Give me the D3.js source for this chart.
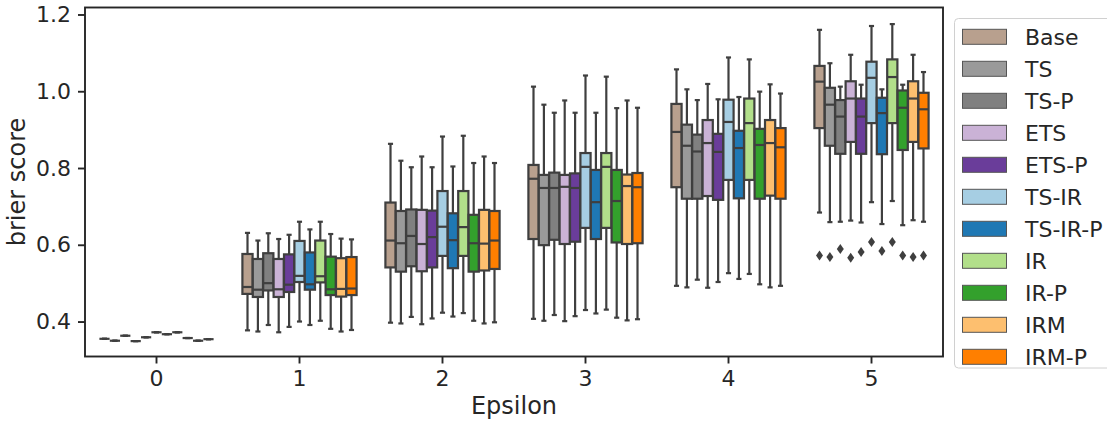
<!DOCTYPE html>
<html lang="en">
<head>
<meta charset="UTF-8">
<title>brier score by epsilon</title>
<script src="https://d3js.org/d3.v7.min.js"></script>
<style>
	body { margin: 0; background: #fff; }
	svg text { font-family: "DejaVu Sans", sans-serif; fill: #262626; }
</style>
</head>
<body>
<svg id="chart" width="1107" height="425"></svg>
<script>
// categories on the x axis and the methods (hue)
var epsilons = ["0", "1", "2", "3", "4", "5"];
var methods = ["Base", "TS", "TS-P", "ETS", "ETS-P", "TS-IR", "TS-IR-P", "IR", "IR-P", "IRM", "IRM-P"];
var colors = ["#b8a08e", "#9a9a9a", "#808080", "#cab2d6", "#6a3d9a", "#a6cee3", "#1f78b4", "#b2df8a", "#33a02c", "#fdbf6f", "#ff7f00"];
var yTicks = [0.4, 0.6, 0.8, 1.0, 1.2];

// box statistics, one row per epsilon, one value per method
var whiskerHigh = [
	[0.355, 0.350, 0.363, 0.349, 0.359, 0.372, 0.367, 0.372, 0.357, 0.350, 0.354],
	[0.631, 0.611, 0.630, 0.615, 0.626, 0.660, 0.640, 0.660, 0.628, 0.616, 0.614],
	[0.863, 0.819, 0.802, 0.830, 0.802, 0.882, 0.804, 0.884, 0.813, 0.830, 0.813],
	[1.012, 0.965, 0.944, 0.976, 0.944, 1.041, 0.944, 1.038, 0.956, 0.976, 0.957],
	[1.057, 1.005, 0.977, 1.019, 0.979, 1.088, 0.985, 1.083, 0.999, 1.018, 0.994],
	[1.160, 1.073, 1.012, 1.095, 1.017, 1.170, 1.005, 1.175, 1.017, 1.095, 1.050]
];
var q3 = [
	[0.355, 0.350, 0.363, 0.349, 0.359, 0.372, 0.367, 0.372, 0.357, 0.350, 0.354],
	[0.576, 0.563, 0.578, 0.563, 0.575, 0.610, 0.580, 0.611, 0.569, 0.565, 0.568],
	[0.710, 0.688, 0.692, 0.691, 0.689, 0.740, 0.682, 0.740, 0.678, 0.691, 0.688],
	[0.808, 0.782, 0.788, 0.782, 0.786, 0.839, 0.795, 0.839, 0.795, 0.783, 0.787],
	[0.967, 0.913, 0.887, 0.925, 0.889, 0.978, 0.897, 0.981, 0.902, 0.925, 0.904],
	[1.066, 1.009, 0.977, 1.026, 0.981, 1.077, 0.983, 1.083, 1.002, 1.026, 0.996]
];
var median = [
	[0.355, 0.350, 0.363, 0.349, 0.359, 0.372, 0.367, 0.372, 0.357, 0.350, 0.354],
	[0.490, 0.483, 0.500, 0.484, 0.496, 0.519, 0.497, 0.518, 0.484, 0.485, 0.486],
	[0.611, 0.604, 0.623, 0.602, 0.620, 0.647, 0.612, 0.646, 0.604, 0.603, 0.611],
	[0.772, 0.748, 0.748, 0.751, 0.748, 0.803, 0.711, 0.803, 0.714, 0.753, 0.750],
	[0.894, 0.858, 0.843, 0.865, 0.842, 0.920, 0.852, 0.917, 0.860, 0.865, 0.854],
	[1.025, 0.965, 0.934, 0.981, 0.934, 1.035, 0.943, 1.037, 0.957, 0.981, 0.953]
];
var q1 = [
	[0.355, 0.350, 0.363, 0.349, 0.359, 0.372, 0.367, 0.372, 0.357, 0.350, 0.354],
	[0.472, 0.464, 0.481, 0.464, 0.477, 0.503, 0.483, 0.502, 0.469, 0.465, 0.469],
	[0.541, 0.530, 0.544, 0.531, 0.541, 0.571, 0.539, 0.571, 0.530, 0.533, 0.537],
	[0.615, 0.599, 0.613, 0.602, 0.608, 0.644, 0.615, 0.644, 0.606, 0.602, 0.604],
	[0.750, 0.720, 0.720, 0.727, 0.717, 0.769, 0.721, 0.769, 0.720, 0.728, 0.720],
	[0.904, 0.858, 0.837, 0.868, 0.837, 0.917, 0.836, 0.917, 0.847, 0.868, 0.851]
];
var whiskerLow = [
	[0.355, 0.350, 0.363, 0.349, 0.359, 0.372, 0.367, 0.372, 0.357, 0.350, 0.354],
	[0.377, 0.374, 0.391, 0.372, 0.386, 0.400, 0.391, 0.402, 0.381, 0.374, 0.378],
	[0.397, 0.395, 0.412, 0.393, 0.408, 0.423, 0.413, 0.422, 0.402, 0.395, 0.398],
	[0.407, 0.402, 0.417, 0.401, 0.414, 0.430, 0.421, 0.431, 0.410, 0.403, 0.406],
	[0.493, 0.489, 0.509, 0.488, 0.503, 0.526, 0.511, 0.524, 0.497, 0.489, 0.493],
	[0.684, 0.659, 0.660, 0.663, 0.658, 0.711, 0.654, 0.714, 0.651, 0.664, 0.660]
];
// outliers only appear at epsilon 5
var outlierEps = "5";
var outliers = [0.572, 0.568, 0.589, 0.566, 0.581, 0.607, 0.584, 0.607, 0.572, 0.568, 0.572];

var svg = d3.select("#chart");
var margin = {left: 85, right: 164, top: 7.5, bottom: 68.5};
var width = 1107, height = 425;
var lineColor = "#3f3f3f";

var x = d3.scaleBand().domain(epsilons).range([margin.left, width - margin.right]).padding(0);
var hue = d3.scaleBand().domain(methods).range([-0.4 * x.bandwidth(), 0.4 * x.bandwidth()]).padding(0);
var y = d3.scaleLinear().domain([0.3089, 1.2182]).range([height - margin.bottom, margin.top]);

var boxW = hue.bandwidth() * 0.98;
var capW = boxW * 0.5;

// flatten into one record per box
var boxes = [];
epsilons.forEach(function(e, i) {
	methods.forEach(function(m, j) {
		boxes.push({eps: e, method: m, color: colors[j],
			lo: whiskerLow[i][j], q1: q1[i][j], med: median[i][j], q3: q3[i][j], hi: whiskerHigh[i][j]});
	});
});
function cx(d) { return x(d.eps) + x.bandwidth() / 2 + hue(d.method) + hue.bandwidth() / 2; }

var g = svg.append("g");
var bx = g.selectAll("g.box").data(boxes).enter().append("g").attr("class", "box");

// whiskers
bx.append("line").attr("x1", cx).attr("x2", cx)
	.attr("y1", function(d) {return y(d.hi)}).attr("y2", function(d) {return y(d.q3)})
	.attr("stroke", lineColor).attr("stroke-width", 2.2);
bx.append("line").attr("x1", cx).attr("x2", cx)
	.attr("y1", function(d) {return y(d.q1)}).attr("y2", function(d) {return y(d.lo)})
	.attr("stroke", lineColor).attr("stroke-width", 2.2);
// caps
["hi", "lo"].forEach(function(k) {
	bx.append("line")
		.attr("x1", function(d) {return cx(d) - capW / 2}).attr("x2", function(d) {return cx(d) + capW / 2})
		.attr("y1", function(d) {return y(d[k])}).attr("y2", function(d) {return y(d[k])})
		.attr("stroke", lineColor).attr("stroke-width", 2.2);
});
// boxes
bx.append("rect")
	.attr("x", function(d) {return cx(d) - boxW / 2})
	.attr("width", boxW)
	.attr("y", function(d) {return y(d.q3)})
	.attr("height", function(d) {return y(d.q1) - y(d.q3)})
	.attr("fill", function(d) {return d.color})
	.attr("stroke", lineColor).attr("stroke-width", 2.2);
// medians
bx.append("line")
	.attr("x1", function(d) {return cx(d) - boxW / 2}).attr("x2", function(d) {return cx(d) + boxW / 2})
	.attr("y1", function(d) {return y(d.med)}).attr("y2", function(d) {return y(d.med)})
	.attr("stroke", lineColor).attr("stroke-width", 2.2);

// outlier diamonds
var diamond = "M0,-5L3.5,0L0,5L-3.5,0Z";
g.selectAll("path.out").data(outliers).enter().append("path")
	.attr("class", "out")
	.attr("d", diamond)
	.attr("transform", function(v, j) {
		var px = x(outlierEps) + x.bandwidth() / 2 + hue(methods[j]) + hue.bandwidth() / 2;
		return "translate(" + px + "," + y(v) + ")";
	})
	.attr("fill", lineColor);

// frame
svg.append("rect")
	.attr("x", margin.left).attr("y", margin.top)
	.attr("width", width - margin.right - margin.left)
	.attr("height", height - margin.bottom - margin.top)
	.attr("fill", "none").attr("stroke", "#262626").attr("stroke-width", 1.9);

// axes
var axisY = d3.axisLeft(y).tickValues(yTicks).tickFormat(d3.format(".1f")).tickSize(7).tickPadding(7);
var axisX = d3.axisBottom(x).tickSize(7).tickPadding(7);
var gy = svg.append("g").attr("transform", "translate(" + margin.left + ",0)").call(axisY);
var gx = svg.append("g").attr("transform", "translate(0," + (height - margin.bottom) + ")").call(axisX);
[gx, gy].forEach(function(a) {
	a.select(".domain").remove();
	a.selectAll("line").attr("stroke", "#262626").attr("stroke-width", 1.9);
	a.selectAll("text").attr("font-size", 22).attr("fill", "#262626")
		.style("font-family", "'DejaVu Sans', sans-serif");
});

svg.append("text")
	.attr("x", (margin.left + width - margin.right) / 2).attr("y", 414)
	.attr("text-anchor", "middle").attr("font-size", 24).text("Epsilon");
svg.append("text")
	.attr("transform", "translate(25," + ((margin.top + height - margin.bottom) / 2) + ") rotate(-90)")
	.attr("text-anchor", "middle").attr("font-size", 24).text("brier score");

// legend
var lg = svg.append("g");
lg.append("rect").attr("x", 954.5).attr("y", 18.5).attr("width", 170).attr("height", 349.5)
	.attr("rx", 4).attr("fill", "#fff").attr("stroke", "#d0d0d0").attr("stroke-width", 1);
var rows = lg.selectAll("g.row").data(methods).enter().append("g")
	.attr("transform", function(m, i) {return "translate(0," + (36.8 + 32 * i) + ")"});
rows.append("rect").attr("x", 962.5).attr("y", -7.5).attr("width", 44).attr("height", 15)
	.attr("fill", function(m, i) {return colors[i]}).attr("stroke", "#555").attr("stroke-width", 1);
rows.append("text").attr("x", 1025).attr("y", 7.8).attr("font-size", 22)
	.text(function(m) {return m});
</script>
</body>
</html>
